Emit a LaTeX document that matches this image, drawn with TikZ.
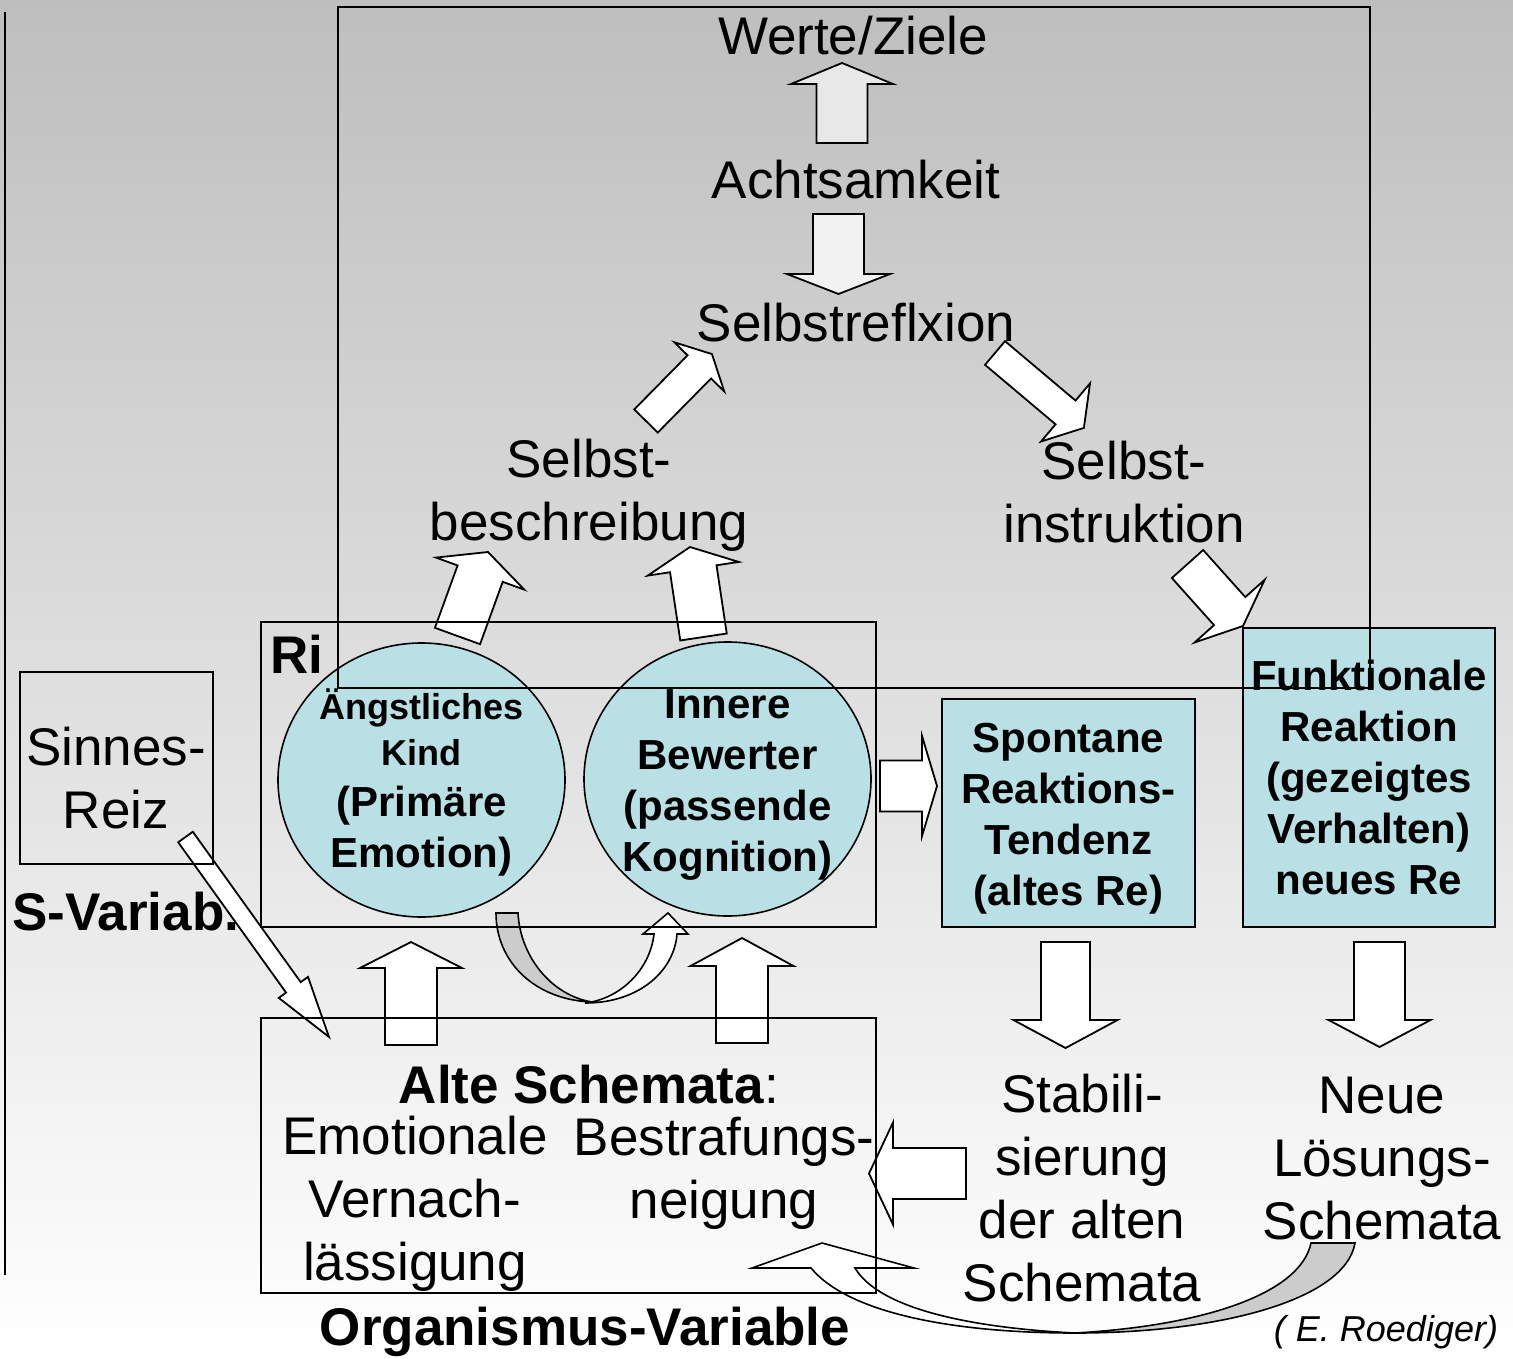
\documentclass[tikz,border=0pt]{standalone}
\usepackage{fontspec}
\setmainfont{Liberation Sans}
\usetikzlibrary{calc,shapes.geometric}

\definecolor{bluefill}{RGB}{185,224,228}
\definecolor{bgtop}{RGB}{190,190,190}
\definecolor{tailgray}{RGB}{204,204,204}

% block arrow: [fill]{tail}{tip}{shaft half}{head half}{head length}, sizes in px
\newcommand{\blockarrow}[6][white]{%
  \filldraw[fill=#1,line width=0.9pt]
    let \p1=(#2), \p2=(#3), \n1={atan2(\y2-\y1,\x2-\x1)}, \n2={veclen(\x2-\x1,\y2-\y1)}
    in [shift={(\p1)},rotate=\n1]
    (0pt,{#4*0.5pt}) -- ({\n2*1pt-#6*0.5pt},{#4*0.5pt}) -- ({\n2*1pt-#6*0.5pt},{#5*0.5pt})
    -- ({\n2*1pt},0pt) -- ({\n2*1pt-#6*0.5pt},{-#5*0.5pt}) -- ({\n2*1pt-#6*0.5pt},{-#4*0.5pt})
    -- (0pt,{-#4*0.5pt}) -- cycle;}

\begin{document}
\begin{tikzpicture}[x=0.5pt,y=-0.5pt,
  frame/.style={draw,line width=1pt,inner sep=0pt,outer sep=0pt},
  txt/.style={font=\fontsize{26.5}{31.5}\selectfont,align=center,inner sep=0pt},
  bold/.style={font=\bfseries\fontsize{26.5}{31.5}\selectfont,inner sep=0pt},
  btxt/.style={font=\bfseries\fontsize{21}{25.5}\selectfont,align=center,inner sep=0pt},
  blob/.style={ellipse,draw,fill=bluefill,line width=0.8pt,inner sep=0pt,
    minimum width=143.5pt,minimum height=137pt},
  rebox/.style={draw,fill=bluefill,line width=0.8pt,inner sep=0pt,align=center,
    font=\bfseries\fontsize{21}{25.5}\selectfont}]
\useasboundingbox (0,0) rectangle (1513,1358);
\shade[top color=bgtop,bottom color=white] (0,0) rectangle (1513,1358);
\draw[line width=1pt] (5,12) -- (5,1275);

% curved arrows
\filldraw[fill=tailgray,line width=0.8pt] (496,913) -- (518,913)
  .. controls (520,955) and (550,995) .. (592,1002)
  .. controls (535,1000) and (496,962) .. (496,913) -- cycle;
\filldraw[fill=white,line width=0.8pt] (585,1003)
  .. controls (638,1003) and (674,972) .. (677,934) -- (688,934) -- (668,913)
  -- (643,934) -- (654,934) .. controls (650,970) and (620,999) .. (585,1003) -- cycle;
\filldraw[fill=tailgray,line width=0.8pt] (1355,1243)
  .. controls (1345,1300) and (1220,1333) .. (1075,1333)
  .. controls (1200,1326) and (1300,1295) .. (1311,1243) -- cycle;
\filldraw[fill=white,line width=0.8pt] (811,1268)
  .. controls (850,1315) and (960,1333) .. (1075,1333)
  .. controls (975,1328) and (880,1310) .. (855,1268)
  -- (914,1268) -- (822,1243) -- (752,1268) -- cycle;

% circles and boxes
\node[blob] (kind) at (421.5,780) {};
\node[btxt] (kindtxt) at (421.5,782)
  {\fontsize{18}{22.5}\selectfont Ängstliches\\[-2.5pt]\fontsize{18}{22.5}\selectfont Kind\\(Primäre\\Emotion)};
\node[blob] (bewerter) at (727.5,779) {};
\node[btxt] (bewtxt) at (727.5,785) {Innere\\Bewerter\\(passende\\Kognition)};
\node[rebox,minimum width=126.5pt,minimum height=114pt] (spontan) at (1068.5,813) {};
\node[btxt] (spontxt) at (1068.5,819) {Spontane\\Reaktions-\\Tendenz\\(altes Re)};
\node[rebox,minimum width=126pt,minimum height=149.5pt] (funkt) at (1369,777.5)
  {Funktionale\\Reaktion\\(gezeigtes\\Verhalten)\\neues Re};

% texts
\node[txt] (werte) at (853,36) {Werte/Ziele};
\node[txt] (acht) at (856,180) {Achtsamkeit};
\node[txt] (reflex) at (856,323) {Selbstreflxion};
\node[txt] (beschr) at (589,495) {Selbst-\\beschreibung};
\node[txt] (instr) at (1124,492) {Selbst-\\instruktion};
\node[txt] (sinnes) at (116,778) {Sinnes-\\Reiz};
\node[bold,anchor=west] (svar) at (12,912) {S-Variab.};
\node[bold,anchor=west] (ri) at (270,654) {Ri};
\node[txt] (alte) at (589,1085) {\textbf{Alte Schemata}:};
\node[txt] (emo) at (415,1204) {Emotionale\\Vernach-\\lässigung};
\node[txt] (strafe) at (724,1173) {Bestrafungs-\\neigung};
\node[txt] (stabil) at (1082,1188) {Stabili-\\sierung\\der alten\\Schemata};
\node[txt] (neue) at (1382,1159) {Neue\\Lösungs-\\Schemata};
\node[bold] (organ) at (585,1332) {Organismus-Variable};
\node[inner sep=0pt,font=\itshape\fontsize{18}{22}\selectfont] (credit) at (1386,1332) {( E. Roediger)};

% arrow ends
\coordinate (acht-up) at (842,143);   \coordinate (werte-in) at (842,63);
\coordinate (acht-dn) at (838.5,214); \coordinate (reflex-in) at (838.5,294);
\coordinate (beschr-out) at (646,421); \coordinate (reflex-l) at (712,354);
\coordinate (reflex-r) at (995,353);  \coordinate (instr-in) at (1084,428);
\coordinate (kind-up) at (457.5,636); \coordinate (beschr-l) at (488,552);
\coordinate (bew-up) at (703.5,637);  \coordinate (beschr-r) at (690,547);
\coordinate (instr-out) at (1187.5,564); \coordinate (funkt-in) at (1243,626);
\coordinate (ri-out) at (880,786);    \coordinate (spontan-in) at (937,786);
\coordinate (alte-l) at (411,1045);   \coordinate (kind-in) at (411,942);
\coordinate (alte-r) at (742,1043);   \coordinate (bew-in) at (742,938);
\coordinate (spontan-out) at (1065.5,942); \coordinate (stabil-in) at (1065.5,1048);
\coordinate (funkt-out) at (1379.5,942);   \coordinate (neue-in) at (1379.5,1047);
\coordinate (stabil-out) at (966,1173.5);  \coordinate (alte-in) at (869,1173.5);
\coordinate (reiz-out) at (185.5,837);     \coordinate (alte-s) at (329,1037);

\blockarrow[black!9]{acht-up}{werte-in}{25.5}{51}{21}
\blockarrow[black!5]{acht-dn}{reflex-in}{25.5}{51.5}{20}
\blockarrow{beschr-out}{reflex-l}{16.5}{35}{18}
\blockarrow{reflex-r}{instr-in}{15.5}{38}{24}
\blockarrow{kind-up}{beschr-l}{24}{47}{23}
\blockarrow{bew-up}{beschr-r}{23.5}{46}{22}
\blockarrow{instr-out}{funkt-in}{21}{47}{20}
\blockarrow{ri-out}{spontan-in}{25.5}{50}{15}
\blockarrow{alte-l}{kind-in}{26}{51}{26}
\blockarrow{alte-r}{bew-in}{26}{51.5}{28}
\blockarrow{spontan-out}{stabil-in}{24.5}{52}{28}
\blockarrow{funkt-out}{neue-in}{25.5}{51}{27}
\blockarrow{stabil-out}{alte-in}{25.5}{51}{24}
\blockarrow{reiz-out}{alte-s}{9}{18}{61}

% frames
\node[frame,minimum width=96.5pt,minimum height=96pt] (sinnesbox) at (116.5,768) {};
\node[frame,minimum width=307.5pt,minimum height=152.5pt] (ribox) at (568.5,774.5) {};
\node[frame,minimum width=307.5pt,minimum height=137.5pt] (altebox) at (568.5,1155.5) {};
\node[frame,minimum width=516pt,minimum height=340.5pt] (topbox) at (854,347.5) {};
\end{tikzpicture}
\end{document}
